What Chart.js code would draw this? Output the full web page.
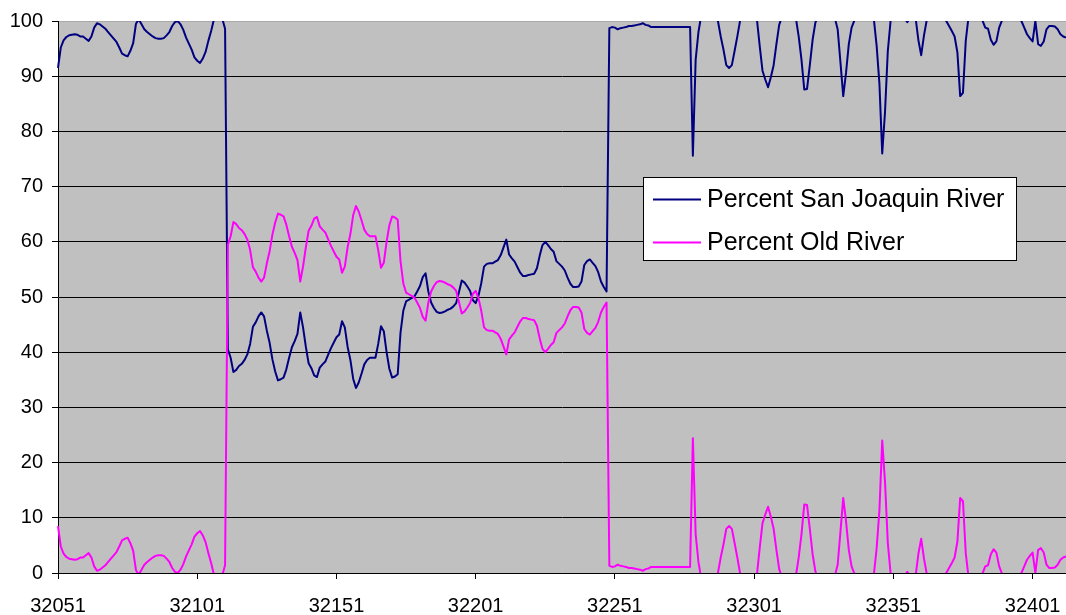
<!DOCTYPE html>
<html>
<head>
<meta charset="utf-8">
<title>Percent San Joaquin River / Percent Old River</title>
<script src="https://cdn.jsdelivr.net/npm/chart.js@4.4.0/dist/chart.umd.min.js"></script>
<style>
  html, body { margin: 0; padding: 0; background: #fff; }
  #wrap { width: 1066px; height: 615px; position: relative; }
</style>
</head>
<body>
<div id="wrap"><canvas id="flow-chart"></canvas></div>
<script>
// day numbers along the x axis
var firstDay = 32051, lastDay = 32413;
var days = [];
for (var d = firstDay; d <= lastDay; d++) days.push(String(d));

var tickLabels = ["32051", "32101", "32151", "32201", "32251", "32301", "32351", "32401"];
var yTickValues = [0, 10, 20, 30, 40, 50, 60, 70, 80, 90, 100];

// one value per day
var sanJoaquin = [
  91.5, 95.2, 96.5, 97.1, 97.4, 97.5, 97.6, 97.5, 97.2, 97.2,
  96.8, 96.4, 97.2, 98.8, 99.6, 99.4, 99.0, 98.6, 98.0, 97.4,
  96.8, 96.2, 95.2, 94.1, 93.8, 93.6, 94.6, 96.0, 99.5, 100.3,
  99.4, 98.5, 98.0, 97.6, 97.2, 96.9, 96.8, 96.8, 96.9, 97.4,
  98.0, 99.1, 99.8, 100.0, 99.4, 98.4, 97.0, 95.9, 94.8, 93.4,
  92.8, 92.4, 93.2, 94.4, 96.4, 98.2, 100.3, 101.0, 101.0, 100.4,
  98.6, 40.5, 39.0, 36.4, 36.8, 37.5, 37.9, 38.6, 39.6, 41.5,
  44.6, 45.4, 46.5, 47.2, 46.5, 43.9, 41.7, 38.7, 36.5, 34.9,
  35.1, 35.4, 36.9, 39.0, 40.9, 42.0, 43.3, 47.2, 44.5, 41.0,
  38.0, 37.1, 35.8, 35.5, 37.2, 37.8, 38.3, 39.5, 40.7, 41.7,
  42.7, 43.2, 45.6, 44.5, 41.0, 38.6, 35.2, 33.5, 34.5, 36.1,
  37.8, 38.6, 39.0, 39.0, 39.0, 41.5, 44.7, 43.8, 40.0, 37.0,
  35.4, 35.6, 36.0, 43.5, 47.5, 49.2, 49.5, 49.8, 50.1, 51.0,
  52.0, 53.6, 54.3, 51.0, 49.0, 48.0, 47.3, 47.1, 47.2, 47.4,
  47.7, 47.9, 48.3, 48.9, 50.9, 53.0, 52.6, 51.9, 51.1, 49.4,
  48.9, 50.2, 52.5, 55.5, 56.0, 56.1, 56.1, 56.4, 56.7, 57.6,
  59.0, 60.4, 57.7, 57.0, 56.4, 55.4, 54.4, 53.8, 53.8, 54.0,
  54.1, 54.2, 55.2, 57.5, 59.4, 60.0, 59.4, 58.7, 58.2, 56.5,
  56.0, 55.5, 54.8, 53.5, 52.4, 51.8, 51.8, 51.9, 52.8, 55.8,
  56.5, 56.8, 56.2, 55.6, 54.5, 52.8, 51.8, 51.0, 98.7, 98.9,
  98.8, 98.5, 98.7, 98.8, 98.9, 99.1, 99.1, 99.2, 99.3, 99.4,
  99.6, 99.3, 99.2, 98.9, 98.9, 98.9, 98.9, 98.9, 98.9, 98.9,
  98.9, 98.9, 98.9, 98.9, 98.9, 98.9, 98.9, 98.9, 75.6, 93.0,
  98.0, 101.0, 102.0, 102.5, 102.5, 102.0, 101.0, 100.0, 97.2, 94.8,
  92.0, 91.5, 92.0, 94.6, 97.3, 100.2, 101.5, 102.5, 103.0, 102.5,
  101.5, 100.3, 95.5, 91.0, 89.4, 88.0, 89.8, 92.0, 95.8, 99.3,
  100.8, 102.0, 102.5, 102.0, 101.2, 100.5, 97.2, 93.0, 87.6, 87.7,
  92.0, 96.6, 99.7, 101.0, 102.0, 102.5, 102.5, 102.0, 101.2, 100.5,
  98.5, 92.5, 86.4, 90.6, 95.8, 98.8, 100.1, 101.2, 102.0, 102.5,
  102.5, 102.0, 101.2, 100.3, 95.5, 88.6, 76.0, 83.5, 94.5, 100.0,
  101.2, 102.0, 102.0, 101.2, 100.5, 99.8, 100.6, 101.5, 100.5, 96.5,
  93.8, 97.4, 100.2, 101.2, 102.0, 102.5, 102.0, 101.2, 100.5, 100.0,
  99.1, 98.2, 97.2, 94.3, 86.4, 87.0, 96.4, 100.8, 101.8, 102.2,
  101.8, 100.8, 100.1, 98.8, 98.6, 96.6, 95.7, 96.3, 98.8, 100.1,
  101.0, 101.8, 102.0, 101.5, 100.8, 100.5, 100.0, 98.8, 97.6, 96.9,
  96.3, 100.0, 95.8, 95.5, 96.3, 98.5, 99.1, 99.1, 99.0, 98.5,
  97.6, 97.2, 97.0
];

var oldRiver = [
  8.5, 4.8, 3.5, 2.9, 2.6, 2.5, 2.4, 2.5, 2.8, 2.8,
  3.2, 3.6, 2.8, 1.2, 0.4, 0.6, 1.0, 1.4, 2.0, 2.6,
  3.2, 3.8, 4.8, 5.9, 6.2, 6.4, 5.4, 4.0, 0.5, -0.3,
  0.6, 1.5, 2.0, 2.4, 2.8, 3.1, 3.2, 3.2, 3.1, 2.6,
  2.0, 0.9, 0.2, 0.0, 0.6, 1.6, 3.0, 4.1, 5.2, 6.6,
  7.2, 7.6, 6.8, 5.6, 3.6, 1.8, -0.3, -1.0, -1.0, -0.4,
  1.4, 59.5, 61.0, 63.6, 63.2, 62.5, 62.1, 61.4, 60.4, 58.5,
  55.4, 54.6, 53.5, 52.8, 53.5, 56.1, 58.3, 61.3, 63.5, 65.1,
  64.9, 64.6, 63.1, 61.0, 59.1, 58.0, 56.7, 52.8, 55.5, 59.0,
  62.0, 62.9, 64.2, 64.5, 62.8, 62.2, 61.7, 60.5, 59.3, 58.3,
  57.3, 56.8, 54.4, 55.5, 59.0, 61.4, 64.8, 66.5, 65.5, 63.9,
  62.2, 61.4, 61.0, 61.0, 61.0, 58.5, 55.3, 56.2, 60.0, 63.0,
  64.6, 64.4, 64.0, 56.5, 52.5, 50.8, 50.5, 50.2, 49.9, 49.0,
  48.0, 46.4, 45.7, 49.0, 51.0, 52.0, 52.7, 52.9, 52.8, 52.6,
  52.3, 52.1, 51.7, 51.1, 49.1, 47.0, 47.4, 48.1, 48.9, 50.6,
  51.1, 49.8, 47.5, 44.5, 44.0, 43.9, 43.9, 43.6, 43.3, 42.4,
  41.0, 39.6, 42.3, 43.0, 43.6, 44.6, 45.6, 46.2, 46.2, 46.0,
  45.9, 45.8, 44.8, 42.5, 40.6, 40.0, 40.6, 41.3, 41.8, 43.5,
  44.0, 44.5, 45.2, 46.5, 47.6, 48.2, 48.2, 48.1, 47.2, 44.2,
  43.5, 43.2, 43.8, 44.4, 45.5, 47.2, 48.2, 49.0, 1.3, 1.1,
  1.2, 1.5, 1.3, 1.2, 1.1, 0.9, 0.9, 0.8, 0.7, 0.6,
  0.4, 0.7, 0.8, 1.1, 1.1, 1.1, 1.1, 1.1, 1.1, 1.1,
  1.1, 1.1, 1.1, 1.1, 1.1, 1.1, 1.1, 1.1, 24.4, 7.0,
  2.0, -1.0, -2.0, -2.5, -2.5, -2.0, -1.0, 0.0, 2.8, 5.2,
  8.0, 8.5, 8.0, 5.4, 2.7, -0.2, -1.5, -2.5, -3.0, -2.5,
  -1.5, -0.3, 4.5, 9.0, 10.6, 12.0, 10.2, 8.0, 4.2, 0.7,
  -0.8, -2.0, -2.5, -2.0, -1.2, -0.5, 2.8, 7.0, 12.4, 12.3,
  8.0, 3.4, 0.3, -1.0, -2.0, -2.5, -2.5, -2.0, -1.2, -0.5,
  1.5, 7.5, 13.6, 9.4, 4.2, 1.2, -0.1, -1.2, -2.0, -2.5,
  -2.5, -2.0, -1.2, -0.3, 4.5, 11.4, 24.0, 16.5, 5.5, 0.0,
  -1.2, -2.0, -2.0, -1.2, -0.5, 0.2, -0.6, -1.5, -0.5, 3.5,
  6.2, 2.6, -0.2, -1.2, -2.0, -2.5, -2.0, -1.2, -0.5, 0.0,
  0.9, 1.8, 2.8, 5.7, 13.6, 13.0, 3.6, -0.8, -1.8, -2.2,
  -1.8, -0.8, -0.1, 1.2, 1.4, 3.4, 4.3, 3.7, 1.2, -0.1,
  -1.0, -1.8, -2.0, -1.5, -0.8, -0.5, 0.0, 1.2, 2.4, 3.1,
  3.7, 0.0, 4.2, 4.5, 3.7, 1.5, 0.9, 0.9, 1.0, 1.5,
  2.4, 2.8, 3.0
];

var FONT = "'Liberation Sans', Arial, sans-serif";

// grey plot area like the old spreadsheet charts
var plotBackground = {
  id: "plotBackground",
  beforeDraw: function (chart) {
    var a = chart.chartArea, ctx = chart.ctx;
    ctx.save();
    ctx.fillStyle = "#c0c0c0";
    ctx.fillRect(a.left, a.top, a.right - a.left, a.bottom - a.top);
    ctx.restore();
  }
};

// legend box sitting inside the plot
var boxLegend = {
  id: "boxLegend",
  afterDatasetsDraw: function (chart) {
    var ctx = chart.ctx;
    var x = 643, y = 177, w = 374, h = 84;
    ctx.save();
    ctx.fillStyle = "#fff";
    ctx.fillRect(x, y, w, h);
    ctx.strokeStyle = "#000";
    ctx.lineWidth = 1;
    ctx.strokeRect(x + 0.5, y + 0.5, w - 1, h - 1);
    ctx.font = "25px " + FONT;
    ctx.textBaseline = "alphabetic";
    ctx.fillStyle = "#000";
    chart.data.datasets.forEach(function (ds, i) {
      var ly = 199.5 + i * 43;
      ctx.strokeStyle = ds.borderColor;
      ctx.lineWidth = 2;
      ctx.beginPath();
      ctx.moveTo(653, ly);
      ctx.lineTo(701, ly);
      ctx.stroke();
      ctx.fillText(ds.label, 707, ly + 7.5);
    });
    ctx.restore();
  }
};

var ctx = document.getElementById("flow-chart").getContext("2d");
var flowChart = new Chart(ctx, {
  type: "line",
  data: {
    labels: days,
    datasets: [{
      label: "Percent San Joaquin River",
      data: sanJoaquin,
      borderColor: "#000080",
      borderWidth: 2,
      pointRadius: 0,
      borderJoinStyle: "round",
      tension: 0,
      order: 2
    }, {
      label: "Percent Old River",
      data: oldRiver,
      borderColor: "#ff00ff",
      borderWidth: 2,
      pointRadius: 0,
      borderJoinStyle: "round",
      tension: 0,
      order: 1
    }]
  },
  options: {
    responsive: true,
    maintainAspectRatio: false,
    animation: false,
    layout: { padding: { top: 20, right: 0, left: 0, bottom: 0 } },
    plugins: {
      legend: { display: false },
      tooltip: { enabled: false }
    },
    scales: {
      x: {
        type: "category",
        offset: false,
        afterFit: function (scale) {
          scale.height = 42;
          scale.paddingLeft = 0;
          scale.paddingRight = 0;
        },
        border: { color: "#000", width: 1 },
        grid: {
          drawOnChartArea: false,
          drawTicks: true,
          tickLength: 6,
          tickColor: function (c) {
            return tickLabels.indexOf(days[c.index]) >= 0 ? "#000" : "rgba(0,0,0,0)";
          }
        },
        ticks: {
          autoSkip: false,
          maxRotation: 0,
          minRotation: 0,
          padding: 15,
          color: "#000",
          font: { family: FONT, size: 20 },
          callback: function (v) {
            var lab = this.getLabelForValue(v);
            return tickLabels.indexOf(lab) >= 0 ? lab : "";
          }
        }
      },
      y: {
        min: 0,
        max: 100,
        afterFit: function (scale) { scale.width = 58; },
        afterBuildTicks: function (scale) {
          scale.ticks = yTickValues.map(function (v) { return { value: v }; });
        },
        border: { color: "#000", width: 1 },
        grid: {
          color: function (c) { return c.tick && c.tick.value === 100 ? "#a8a8a8" : "#000"; },
          lineWidth: 1,
          tickLength: 6,
          tickColor: "#000"
        },
        ticks: {
          padding: 9,
          color: "#000",
          font: { family: FONT, size: 20 }
        }
      }
    }
  },
  plugins: [plotBackground, boxLegend]
});
</script>
</body>
</html>
